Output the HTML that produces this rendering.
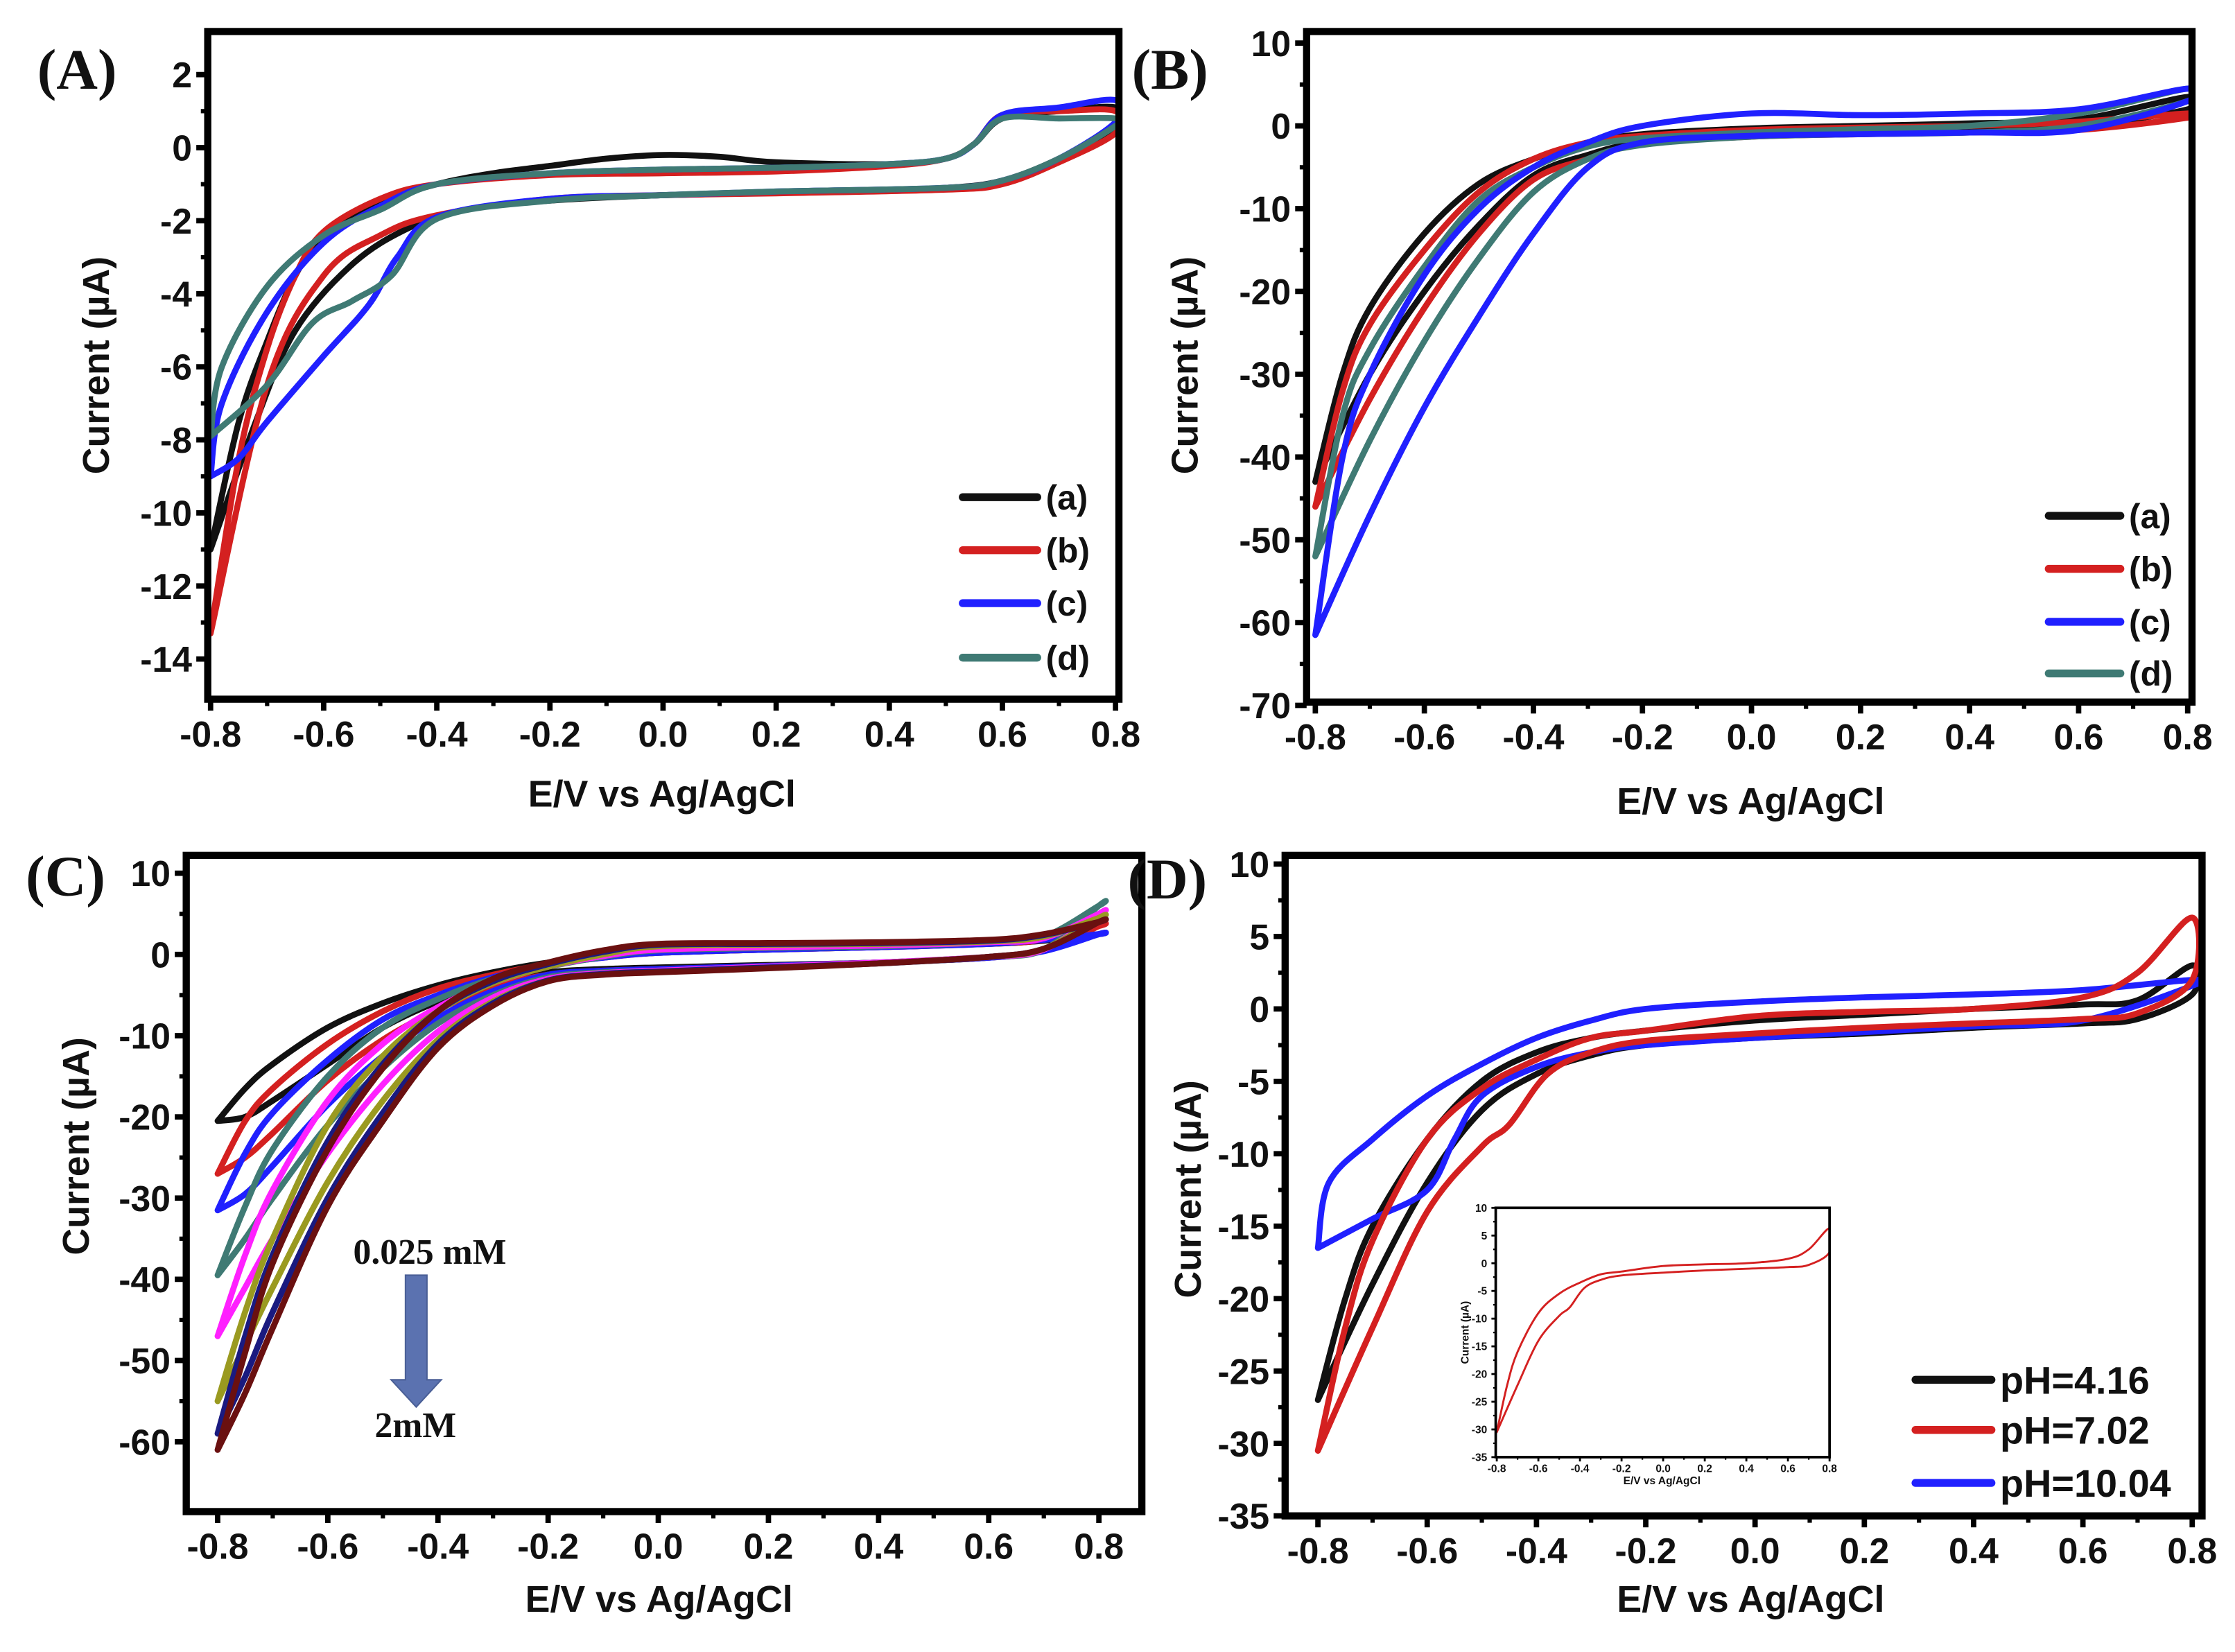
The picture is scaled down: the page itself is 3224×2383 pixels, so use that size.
<!DOCTYPE html>
<html><head><meta charset="utf-8"><style>
html,body{margin:0;padding:0;background:#fff;}
svg{display:block;}
text{font-family:"Liberation Sans",sans-serif;font-weight:bold;fill:#111;}
.serif{font-family:"Liberation Serif",serif;}
</style></head><body>
<svg id="fig" width="3224" height="2383" viewBox="0 0 1560 1153" preserveAspectRatio="none" xmlns="http://www.w3.org/2000/svg">
<rect x="0" y="0" width="1560" height="1153" fill="#fff"/>
<defs id="defs"></defs>
</svg>
<script>
// ---------- Panel A data ----------
const A_a_E = [-0.8,-0.75,-0.7,-0.65,-0.6,-0.5,-0.4,-0.3,-0.2,-0.1,0,0.1,0.2,0.4,0.5,0.55,0.6,0.7,0.8,0.8,0.7,0.6,0.5,0.3,0,-0.2,-0.35,-0.45,-0.55,-0.65,-0.72,-0.8];
const A_a_I = [-11,-7.5,-5.3,-3.5,-2.4,-1.5,-1.0,-0.7,-0.5,-0.3,-0.2,-0.25,-0.4,-0.45,-0.3,0.1,0.8,1.0,1.1,0.6,-0.3,-0.9,-1.1,-1.2,-1.3,-1.45,-1.7,-2.2,-3.2,-5,-7.5,-11];
const A_b_E = [-0.8,-0.75,-0.7,-0.65,-0.6,-0.5,-0.4,-0.2,0,0.2,0.4,0.5,0.55,0.6,0.7,0.8,0.8,0.7,0.6,0.5,0.2,0,-0.2,-0.4,-0.5,-0.6,-0.7,-0.8];
const A_b_I = [-13.3,-8.5,-5.5,-3.5,-2.3,-1.4,-1.0,-0.75,-0.7,-0.65,-0.5,-0.3,0.1,0.9,1.0,1.0,0.4,-0.4,-1.0,-1.15,-1.25,-1.3,-1.4,-1.85,-2.4,-3.5,-6.5,-13.3];
const A_c_E = [-0.8,-0.78,-0.7,-0.6,-0.5,-0.4,-0.2,0,0.2,0.4,0.5,0.55,0.6,0.7,0.8,0.8,0.7,0.6,0.5,0.2,0,-0.2,-0.4,-0.47,-0.52,-0.6,-0.7,-0.75,-0.8];
const A_c_I = [-9,-7,-4.5,-2.6,-1.6,-1.0,-0.7,-0.6,-0.55,-0.45,-0.3,0.1,0.9,1.1,1.3,0.7,-0.3,-0.9,-1.1,-1.2,-1.3,-1.4,-1.9,-3,-4.3,-5.7,-7.5,-8.5,-9];
const A_d_E = [-0.8,-0.78,-0.7,-0.6,-0.5,-0.4,-0.2,0,0.2,0.4,0.5,0.55,0.6,0.7,0.8,0.8,0.7,0.6,0.5,0.2,0,-0.2,-0.4,-0.48,-0.55,-0.62,-0.7,-0.8];
const A_d_I = [-7.9,-6,-3.8,-2.4,-1.7,-1.0,-0.7,-0.6,-0.55,-0.45,-0.3,0.1,0.8,0.8,0.8,0.6,-0.3,-0.9,-1.1,-1.2,-1.3,-1.45,-1.95,-3.5,-4.2,-4.8,-6.5,-7.9];
const A_xticks = [-0.8,-0.6,-0.4,-0.2,0.0,0.2,0.4,0.6,0.8];
const A_yticks = [2,0,-2,-4,-6,-8,-10,-12,-14];
const A_legend = ["(a)","(b)","(c)","(d)"];

// ---------- Panel B data ----------
const B_E = [-0.8,-0.75,-0.7,-0.6,-0.5,-0.4,-0.3,-0.2,0,0.2,0.4,0.6,0.8,0.8,0.6,0.4,0.2,0,-0.2,-0.3,-0.4,-0.5,-0.6,-0.7,-0.8];
const B_a_I = [-43,-30,-22,-13,-7,-4,-2,-1,-0.3,0,0.3,0.8,3.5,2,0,-0.5,-0.7,-1,-2,-3.5,-6,-12,-20,-30,-43];
const B_b_I = [-46,-32,-24,-15,-8,-4,-2,-1.2,-0.5,-0.2,0,0.5,1.5,1,-0.5,-0.8,-1,-1.3,-2.2,-4,-6.5,-13,-22,-33,-46];
const B_c_I = [-61.5,-40,-30,-18,-10,-5,-2,0,1.5,1.3,1.5,2,4.5,3,-0.5,-0.8,-1,-1.2,-2,-5,-13,-23,-34,-47,-61.5];
const B_d_I = [-52,-35,-27,-17,-9,-5,-2.5,-1.5,-0.8,-0.4,0,1.5,4.5,3,0,-0.8,-1,-1.3,-2.3,-4,-8,-16,-26,-38,-52];
const B_xticks = [-0.8,-0.6,-0.4,-0.2,0.0,0.2,0.4,0.6,0.8];
const B_yticks = [10,0,-10,-20,-30,-40,-50,-60,-70];
const B_legend = ["(a)","(b)","(c)","(d)"];

// ---------- Panel C data ----------
const C_E = [-0.8,-0.75,-0.7,-0.6,-0.5,-0.4,-0.3,-0.2,-0.1,0,0.2,0.4,0.6,0.7,0.8];
const C_up = [
 [-20.5,-16.5,-13.5,-9,-6,-3.8,-2.2,-1,-0.3,0.2,0.6,0.9,1.3,1.7,2.5],
 [-27,-20.5,-16.5,-11,-7,-4.2,-2.5,-1.2,-0.4,0.2,0.6,0.9,1.3,1.8,3.5],
 [-31.5,-24.5,-19.5,-13,-8,-5,-2.8,-1.3,-0.4,0.2,0.6,0.9,1.3,1.8,2.5],
 [-39.5,-31,-24,-15,-9,-5.5,-3,-1.5,-0.3,0.5,0.8,1,1.5,2.2,6],
 [-47,-37,-29,-18,-11,-6.5,-3.5,-1.5,-0.2,0.6,0.9,1.1,1.5,2,5],
 [-55,-44,-35,-21,-12.5,-7,-3.5,-1.5,0,1,1.2,1.3,1.6,2.2,4.5],
 [-59,-47,-37,-23,-13.5,-7,-3.3,-1.2,0.3,1.2,1.3,1.4,1.7,2.4,4],
 [-61,-49,-38,-24,-14,-7,-3,-1,0.5,1.3,1.4,1.5,1.8,2.5,4]
];
const C_down = [
 [-20.5,-20,-18,-13.5,-9,-5.8,-3.5,-2.2,-1.8,-1.6,-1.3,-1,-0.4,0.5,2.5],
 [-27,-25,-22,-15.5,-10.5,-6.8,-4,-2.5,-2,-1.8,-1.4,-1,-0.4,0.5,3.5],
 [-31.5,-29.5,-26,-18.5,-12.5,-7.8,-4.5,-2.5,-2,-1.8,-1.4,-1,-0.4,0.4,2.5],
 [-39.5,-35,-30,-21,-14,-8.5,-5,-2.8,-2.2,-2,-1.5,-1,-0.3,0.6,6],
 [-47,-41,-35,-24.5,-16,-9.5,-5.3,-3,-2.3,-2,-1.5,-1,-0.3,0.6,5],
 [-55,-48,-41,-28,-18,-10.5,-5.8,-3.2,-2.4,-2.1,-1.6,-1.1,-0.3,0.7,4.5],
 [-59,-52,-44,-30,-19.5,-11,-6,-3.2,-2.4,-2.1,-1.6,-1.1,-0.3,0.7,4],
 [-61,-54,-46,-31,-20.5,-11.5,-6.3,-3.3,-2.5,-2.2,-1.7,-1.1,-0.3,0.7,4]
];
const C_xticks = [-0.8,-0.6,-0.4,-0.2,0.0,0.2,0.4,0.6,0.8];
const C_yticks = [10,0,-10,-20,-30,-40,-50,-60];

// ---------- Panel D data ----------
const D_a_E = [-0.8,-0.75,-0.7,-0.6,-0.5,-0.4,-0.3,-0.2,0,0.2,0.4,0.6,0.7,0.8,0.8,0.7,0.6,0.4,0.2,0,-0.2,-0.3,-0.4,-0.5,-0.6,-0.7,-0.8];
const D_a_I = [-27,-20,-15,-9,-5,-3,-2,-1.5,-0.8,-0.4,0,0.3,0.6,3,1,-0.7,-1,-1.3,-1.7,-2,-2.5,-3.2,-4.5,-7,-12,-19,-27];
const D_b_E = [-0.8,-0.75,-0.7,-0.6,-0.5,-0.4,-0.3,-0.2,0,0.2,0.4,0.6,0.7,0.8,0.8,0.7,0.6,0.4,0.2,0,-0.2,-0.3,-0.38,-0.45,-0.5,-0.6,-0.7,-0.8];
const D_b_I = [-30.5,-22,-16,-9,-5.5,-3.5,-2,-1.5,-0.5,-0.2,0,0.8,2.5,6.3,2,-0.3,-0.7,-1,-1.3,-1.7,-2.2,-3,-4.5,-8,-9.5,-14,-22,-30.5];
const D_c_E = [-0.8,-0.78,-0.7,-0.6,-0.5,-0.4,-0.3,-0.2,0,0.2,0.4,0.6,0.8,0.8,0.6,0.4,0.2,0,-0.2,-0.3,-0.4,-0.5,-0.55,-0.6,-0.7,-0.8];
const D_c_I = [-16.5,-12,-9,-6,-3.8,-2,-0.8,0,0.5,0.8,1,1.3,2,1.6,-0.8,-1.2,-1.6,-2,-2.5,-3,-4,-6,-9,-12.5,-14.5,-16.5];
const D_xticks = [-0.8,-0.6,-0.4,-0.2,0.0,0.2,0.4,0.6,0.8];
const D_yticks = [10,5,0,-5,-10,-15,-20,-25,-30,-35];
const D_legend = ["pH=4.16","pH=7.02","pH=10.04"];

const NS = "http://www.w3.org/2000/svg";
const svg = document.getElementById('fig');
const defs = document.getElementById('defs');
function el(tag, attrs, parent){ const e=document.createElementNS(NS,tag); for(const k in attrs) e.setAttribute(k,attrs[k]); (parent||svg).appendChild(e); return e; }

function mkAxes(p, id){
  p.sx = v => p.fx0 + (v-p.xmin)/(p.xmax-p.xmin)*(p.fx1-p.fx0);
  p.sy = v => p.fy0 + (p.ymax-v)/(p.ymax-p.ymin)*(p.fy1-p.fy0);
  const cp = el('clipPath',{id:'clip-'+id},defs);
  el('rect',{x:p.fx0,y:p.fy0,width:p.fx1-p.fx0,height:p.fy1-p.fy0},cp);
  p.g = el('g',{'clip-path':`url(#clip-${id})`});
  
  
  return p;
}
function smoothPath(pts){
  let d = `M${pts[0][0].toFixed(2)},${pts[0][1].toFixed(2)}`;
  for(let i=0;i<pts.length-1;i++){
    const p0=pts[Math.max(0,i-1)], p1=pts[i], p2=pts[i+1], p3=pts[Math.min(pts.length-1,i+2)];
    const t=0.17;
    const c1=[p1[0]+(p2[0]-p0[0])*t, p1[1]+(p2[1]-p0[1])*t];
    const c2=[p2[0]-(p3[0]-p1[0])*t, p2[1]-(p3[1]-p1[1])*t];
    d += ` C${c1[0].toFixed(2)},${c1[1].toFixed(2)} ${c2[0].toFixed(2)},${c2[1].toFixed(2)} ${p2[0].toFixed(2)},${p2[1].toFixed(2)}`;
  }
  return d;
}
function drawCurve(p, E, I, color, w, name){
  const pts = E.map((e,i)=>[p.sx(e), p.sy(I[i])]);
  const path = el('path',{d:smoothPath(pts),fill:'none',stroke:color,'stroke-width':w,'stroke-linejoin':'round','stroke-linecap':'round'},p.g);
  
  
  return path;
}
function drawFrame(p, xt, yt, opts){
  const g = el('g',{});
  
  
  const fw = opts.fw||5, tk = opts.tk||8, fs = opts.fs||25;
  for(let i=0;i<xt.length;i++){
    const x=p.sx(xt[i]);
    el('line',{x1:x,x2:x,y1:p.fy1,y2:p.fy1+tk,stroke:'#000','stroke-width':fw*0.75},g);
    const t=el('text',{x:x,y:p.fy1+tk+fs*1.0,'text-anchor':'middle','font-size':fs},g);
    t.textContent = xt[i].toFixed(1);
    
    
    if(i<xt.length-1){
      const xm=p.sx((xt[i]+xt[i+1])/2);
      el('line',{x1:xm,x2:xm,y1:p.fy1,y2:p.fy1+tk*0.6,stroke:'#000','stroke-width':fw*0.6},g);
    }
  }
  for(let i=0;i<yt.length;i++){
    const y=p.sy(yt[i]);
    el('line',{x1:p.fx0-tk,x2:p.fx0,y1:y,y2:y,stroke:'#000','stroke-width':fw*0.75},g);
    const t=el('text',{x:p.fx0-tk-3,y:y+fs*0.36,'text-anchor':'end','font-size':fs},g);
    t.textContent = String(yt[i]);
    
    
    if(i<yt.length-1){
      const ym=p.sy((yt[i]+yt[i+1])/2);
      el('line',{x1:p.fx0-tk*0.6,x2:p.fx0,y1:ym,y2:ym,stroke:'#000','stroke-width':fw*0.6},g);
    }
  }
  const r = el('rect',{x:p.fx0,y:p.fy0,width:p.fx1-p.fx0,height:p.fy1-p.fy0,fill:'none',stroke:'#000','stroke-width':fw},g);
  
  
  if(opts.xtitle){
    const t=el('text',{x:opts.xtitle[0],y:opts.xtitle[1],'text-anchor':'middle','font-size':opts.tfs||26},g);
    t.textContent='E/V vs Ag/AgCl';
    
    
  }
  if(opts.ytitle){
    const t=el('text',{x:0,y:0,'text-anchor':'middle','font-size':opts.tfs||26,transform:`translate(${opts.ytitle[0]},${opts.ytitle[1]}) rotate(-90)`},g);
    t.textContent='Current (\u00B5A)';
    
    
  }
  if(opts.label){
    const t=el('text',{x:opts.label[0],y:opts.label[1],'font-size':40,'class':'serif'},g);
    t.textContent=opts.label[2];
    
    
  }
}
function legend(entries, colors, x0, x1, ys, fs, name){
  for(let i=0;i<entries.length;i++){
    const g=el('g',{});
    
    
    el('line',{x1:x0,x2:x1,y1:ys[i],y2:ys[i],stroke:colors[i],'stroke-width':5.5,'stroke-linecap':'round'},g);
    const t=el('text',{x:x1+6,y:ys[i]+fs*0.36,'font-size':fs},g);
    t.textContent=entries[i];
  }
}

const colA=['#111111','#d42020','#2020ff','#3f7a74'];
const LW=4.2;

// ---------- Panel A ----------
const pA = mkAxes({fx0:145,fx1:781,fy0:22,fy1:488,xmin:-0.805,xmax:0.806,ymin:-15.1,ymax:3.18},'panel-a');
drawCurve(pA,A_a_E,A_a_I,colA[0],LW,'curve-a');
drawCurve(pA,A_b_E,A_b_I,colA[1],LW,'curve-b');
drawCurve(pA,A_c_E,A_c_I,colA[2],LW,'curve-c');
drawCurve(pA,A_d_E,A_d_I,colA[3],LW,'curve-d');
drawFrame(pA,A_xticks,A_yticks,{name:'panel-a',xtitle:[462,563],ytitle:[76,255],label:[26,62,'(A)']});
legend(A_legend,colA,672,724,[347,384,421,459],24,'legend-a');

// ---------- Panel B ----------
const pB = mkAxes({fx0:912,fx1:1530,fy0:22,fy1:490,xmin:-0.816,xmax:0.808,ymin:-69.6,ymax:11.4},'panel-b');
drawCurve(pB,B_E,B_a_I,colA[0],LW,'curve-b-a');
drawCurve(pB,B_E,B_b_I,colA[1],LW,'curve-b-b');
drawCurve(pB,B_E,B_d_I,colA[3],LW,'curve-b-d');
drawCurve(pB,B_E,B_c_I,colA[2],LW,'curve-b-c');
drawFrame(pB,B_xticks,B_yticks,{name:'panel-b',xtitle:[1222,568],ytitle:[836,255],label:[790,62,'(B)']});
legend(B_legend,colA,1430,1480,[360,397,434,470],24,'legend-b');

// ---------- Panel C ----------
const colC=['#111111','#d42020','#2020ff','#3f7a74','#ff20ff','#9a9a20','#1a1a80','#6a1010'];
const pC = mkAxes({fx0:130,fx1:797,fy0:597,fy1:1055,xmin:-0.857,xmax:0.878,ymin:-68.6,ymax:12.2},'panel-c');
for(let k=0;k<C_up.length;k++){
  const E=C_E.concat(C_E.slice().reverse());
  const I=C_up[k].concat(C_down[k].slice().reverse());
  drawCurve(pC,E,I,colC[k],LW,'curve-c-'+(k+1));
}
drawFrame(pC,C_xticks,C_yticks,{name:'panel-c',xtitle:[460,1125],ytitle:[62,800],label:[18,625,'(C)']});
{
  const t1=el('text',{x:300,y:882,'text-anchor':'middle','font-size':25,'class':'serif'});
  t1.textContent='0.025 mM';
  
  
  const ar=el('path',{d:'M283,890 L298,890 L298,963 L308,963 L290.5,982 L273,963 L283,963 Z',fill:'#5b72b0',stroke:'#4a5f96','stroke-width':1});
  
  
  const t2=el('text',{x:290,y:1003,'text-anchor':'middle','font-size':25,'class':'serif'});
  t2.textContent='2mM';
  
  
}

// ---------- Panel D ----------
const colD=['#111111','#d42020','#2020ff'];
const pD = mkAxes({fx0:897,fx1:1537,fy0:597,fy1:1058,xmin:-0.86,xmax:0.818,ymin:-35,ymax:10.6},'panel-d');
drawCurve(pD,D_a_E,D_a_I,colD[0],LW,'curve-ph416');
drawCurve(pD,D_c_E,D_c_I,colD[2],LW,'curve-ph1004');
drawCurve(pD,D_b_E,D_b_I,colD[1],LW,'curve-ph702');
drawFrame(pD,D_xticks,D_yticks,{name:'panel-d',xtitle:[1222,1125],ytitle:[838,830],label:[787,627,'(D)']});
legend(D_legend,colD,1337,1390,[963,998,1035],27,'legend-d');

// ---------- Inset ----------
el('rect',{x:1044,y:843,width:233,height:174,fill:'#fff'});
const pI = mkAxes({fx0:1044,fx1:1277,fy0:843,fy1:1017,xmin:-0.805,xmax:0.8,ymin:-35,ymax:10},'inset');
drawCurve(pI,D_b_E,D_b_I,'#d42020',1.4,'inset-curve');
drawFrame(pI,D_xticks,D_yticks,{name:'inset',fw:1.8,tk:3,fs:7.5,tfs:7.5,xtitle:[1160,1036],ytitle:[1025,930]});
</script>
</body></html>
